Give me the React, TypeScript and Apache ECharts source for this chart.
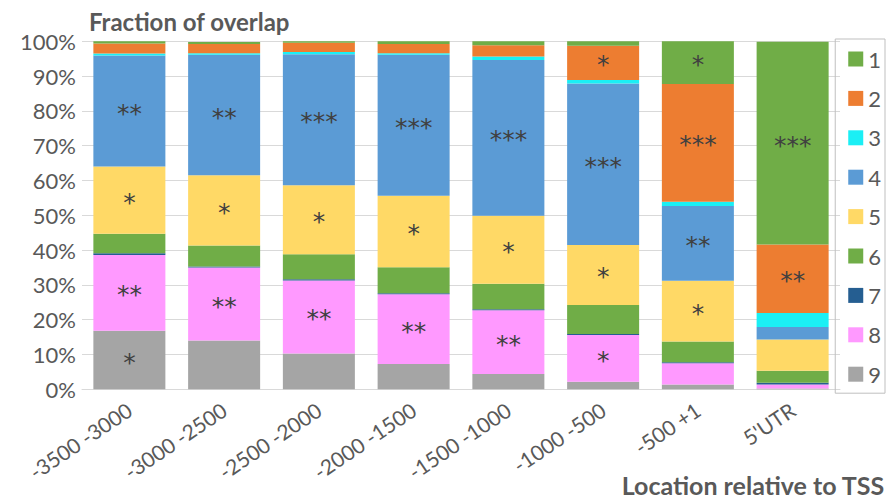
import React, { useEffect, useRef } from "react";
import * as echarts from "echarts";

const categories = ["-3500 -3000", "-3000 -2500", "-2500 -2000", "-2000 -1500", "-1500 -1000", "-1000 -500", "-500 +1", "5'UTR"];

const legendNames = ["1", "2", "3", "4", "5", "6", "7", "8", "9"];

// percent values per group (index 0 = group "1" ... index 8 = group "9")
const s1 = [0.6, 0.6, 0.4, 0.8, 1.1, 1.3, 12.3, 58.3];
const s2 = [2.9, 2.6, 2.7, 2.6, 3.3, 9.8, 33.8, 19.7];
const s3 = [0.6, 0.5, 0.6, 0.5, 1.0, 1.0, 1.2, 4.0];
const s4 = [31.9, 34.6, 37.7, 40.5, 44.7, 46.4, 21.5, 3.6];
const s5 = [19.3, 20.2, 19.8, 20.5, 19.6, 17.3, 17.5, 9.0];
const s6 = [5.6, 6.0, 7.2, 7.5, 7.3, 8.3, 5.9, 3.4];
const s7 = [0.5, 0.3, 0.3, 0.3, 0.3, 0.3, 0.3, 0.5];
const s8 = [21.8, 21.0, 21.0, 20.0, 18.3, 13.4, 6.1, 1.2];
const s9 = [16.8, 14.0, 10.3, 7.3, 4.4, 2.2, 1.4, 0.2];

const stars1 = ["", "", "", "", "", "", "*", "***"];
const stars2 = ["", "", "", "", "", "*", "***", "**"];
const stars3 = ["", "", "", "", "", "", "", ""];
const stars4 = ["**", "**", "***", "***", "***", "***", "**", ""];
const stars5 = ["*", "*", "*", "*", "*", "*", "*", ""];
const stars6 = ["", "", "", "", "", "", "", ""];
const stars7 = ["", "", "", "", "", "", "", ""];
const stars8 = ["**", "**", "**", "**", "**", "*", "", ""];
const stars9 = ["*", "", "", "", "", "", "", ""];

const colors = ["#70AD47", "#ED7D31", "#1BEFF5", "#5B9BD5", "#FFD966", "#70AD47", "#255E91", "#FF99FF", "#A5A5A5"];

const FONT = "Lato, 'Open Sans', sans-serif";
const TXT = "#595959";

export default function App() {
  const ref = useRef<HTMLDivElement>(null);
  useEffect(() => {
    if (!ref.current) return;
    const chart = echarts.init(ref.current, null, { renderer: "svg" });
    const values = [s1, s2, s3, s4, s5, s6, s7, s8, s9];
    const stars = [stars1, stars2, stars3, stars4, stars5, stars6, stars7, stars8, stars9];
    const series: any[] = [];
    for (let i = 8; i >= 0; i--) {
      const st = stars[i];
      series.push({
        name: legendNames[i],
        type: "bar",
        stack: "total",
        data: values[i],
        barWidth: "76%",
        itemStyle: { color: colors[i] },
        label: {
          show: true,
          position: "inside",
          formatter: (p: any) => st[p.dataIndex] || "",
          fontSize: 25,
          fontFamily: "'DejaVu Sans', sans-serif",
          color: "#404040",
          offset: [0, 2],
        },
        emphasis: { disabled: true },
      });
    }
    chart.setOption({
      animation: false,
      textStyle: { fontFamily: FONT },
      title: [
        {
          text: "Fraction of overlap",
          left: 89,
          top: 9,
          padding: 0,
          textStyle: { fontSize: 24, fontWeight: "bold", color: TXT, fontFamily: FONT },
        },
        {
          text: "Location relative to TSS",
          right: 3,
          top: 472,
          padding: 0,
          textStyle: { fontSize: 25, fontWeight: "bold", color: TXT, fontFamily: FONT },
        },
      ],
      legend: {
        data: legendNames,
        orient: "vertical",
        right: 3,
        top: 39,
        padding: [9, 4, 8, 13],
        itemWidth: 15,
        itemHeight: 15,
        itemGap: 17.4,
        icon: "rect",
        borderColor: "#BFBFBF",
        borderWidth: 1,
        textStyle: { fontSize: 22, color: TXT, fontFamily: FONT },
      },
      grid: { left: 82, right: 48, top: 41.3, bottom: 110.7, containLabel: false },
      xAxis: {
        type: "category",
        data: categories,
        axisTick: { show: false },
        axisLine: { lineStyle: { color: "#D9D9D9" } },
        axisLabel: { rotate: 34, interval: 0, fontSize: 21, color: TXT, fontFamily: FONT, margin: 18 },
      },
      yAxis: {
        type: "value",
        min: 0,
        max: 100,
        interval: 10,
        axisLine: { show: false },
        axisTick: { show: false },
        splitLine: { lineStyle: { color: "#D9D9D9" } },
        axisLabel: { formatter: "{value}%", fontSize: 22, color: TXT, fontFamily: FONT, margin: 6 },
      },
      series,
    });
    return () => chart.dispose();
  }, []);
  return <div ref={ref} style={{ position: "absolute", left: 0, top: 0, width: 888, height: 500 }} />;
}
